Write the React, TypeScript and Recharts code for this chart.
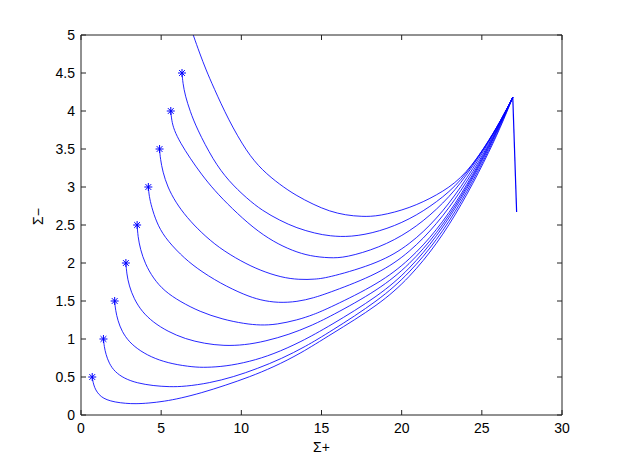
import React from 'react';
import { ComposedChart, Line, Scatter, XAxis, YAxis } from 'recharts';

type Pt = [number, number];

// trajectories in the (Σ+, Σ−) plane
const traj1: Pt[] = [[0.7, 0.5], [0.75, 0.43], [0.85, 0.36], [1.0, 0.3], [1.25, 0.24], [1.6, 0.2], [2.1, 0.17], [2.8, 0.152], [3.4, 0.147], [4.2, 0.155], [5.2, 0.18], [6.2, 0.22], [7.5, 0.29], [9, 0.39], [10.5, 0.5], [12, 0.63], [13.7, 0.81], [15.5, 1.05], [18.6, 1.45], [20.5, 1.81], [22.2, 2.25], [23.7, 2.75], [25.2, 3.35], [26.2, 3.8], [26.93, 4.18]];
const traj2: Pt[] = [[1.4, 1.0], [1.45, 0.9], [1.55, 0.8], [1.75, 0.68], [2.1, 0.57], [2.7, 0.48], [3.5, 0.42], [4.5, 0.385], [5.5, 0.37], [6.5, 0.375], [8, 0.42], [9.5, 0.5], [11, 0.61], [12.5, 0.74], [14, 0.9], [15.5, 1.09], [18.6, 1.51], [20.5, 1.87], [22.2, 2.3], [23.7, 2.79], [25.2, 3.38], [26.2, 3.82], [26.93, 4.18]];
const traj3: Pt[] = [[2.1, 1.5], [2.15, 1.38], [2.3, 1.24], [2.55, 1.1], [3, 0.96], [3.7, 0.84], [4.6, 0.74], [5.7, 0.67], [7, 0.63], [7.8, 0.625], [9, 0.64], [10.5, 0.7], [12, 0.8], [13.7, 0.96], [15.5, 1.17], [18.6, 1.57], [20.5, 1.92], [22.2, 2.35], [23.7, 2.83], [25.2, 3.41], [26.2, 3.84], [26.93, 4.18]];
const traj4: Pt[] = [[2.8, 2.0], [2.85, 1.86], [3.0, 1.7], [3.3, 1.53], [3.8, 1.36], [4.5, 1.22], [5.4, 1.1], [6.5, 1.0], [7.7, 0.94], [8.9, 0.91], [10.2, 0.92], [11.5, 0.97], [13, 1.06], [14.3, 1.17], [15.5, 1.29], [18.6, 1.65], [20.5, 1.98], [22.2, 2.39], [23.7, 2.86], [25.2, 3.43], [26.2, 3.85], [26.93, 4.18]];
const traj5: Pt[] = [[3.5, 2.5], [3.55, 2.35], [3.7, 2.18], [4.0, 1.99], [4.5, 1.8], [5.2, 1.63], [6.2, 1.49], [7.4, 1.36], [8.8, 1.26], [10.2, 1.2], [11.2, 1.18], [12.2, 1.19], [13.5, 1.25], [14.5, 1.32], [15.5, 1.41], [18.6, 1.73], [20.5, 2.04], [22.2, 2.43], [23.7, 2.89], [25.2, 3.45], [26.2, 3.86], [26.93, 4.18]];
const traj6: Pt[] = [[4.2, 3.0], [4.25, 2.88], [4.4, 2.74], [4.7, 2.54], [5.2, 2.34], [6.2, 2.11], [7.2, 1.93], [8.7, 1.73], [10.2, 1.58], [11.2, 1.51], [12.3, 1.475], [13.5, 1.49], [14.5, 1.54], [15.5, 1.61], [18.6, 1.86], [20.5, 2.14], [22.2, 2.51], [23.7, 2.94], [25.2, 3.47], [26.2, 3.87], [26.93, 4.18]];
const traj7: Pt[] = [[4.9, 3.5], [4.95, 3.37], [5.1, 3.2], [5.4, 3.0], [5.9, 2.8], [6.6, 2.6], [7.5, 2.4], [8.6, 2.2], [10, 2.02], [11.2, 1.9], [12.5, 1.81], [13.6, 1.78], [14.6, 1.785], [15.5, 1.81], [18.6, 2.0], [20.5, 2.24], [22.2, 2.58], [23.7, 2.99], [25.2, 3.5], [26.2, 3.88], [26.93, 4.18]];
const traj8: Pt[] = [[5.6, 4.0], [5.65, 3.88], [5.8, 3.75], [6.2, 3.58], [6.8, 3.38], [7.5, 3.17], [8.3, 2.96], [9.4, 2.72], [10.75, 2.46], [12, 2.28], [13.2, 2.16], [14.3, 2.09], [15.5, 2.065], [16.5, 2.07], [18.6, 2.2], [20.5, 2.41], [22.2, 2.7], [23.7, 3.04], [25.2, 3.52], [26.2, 3.88], [26.93, 4.18]];
const traj9: Pt[] = [[6.3, 4.5], [6.35, 4.37], [6.5, 4.2], [6.8, 4.0], [7.22, 3.77], [8.25, 3.35], [9.2, 3.08], [10.34, 2.85], [11.3, 2.69], [12.4, 2.56], [13.45, 2.46], [14.6, 2.39], [15.5, 2.355], [16.8, 2.34], [18.6, 2.41], [20.5, 2.57], [22.2, 2.8], [23.7, 3.07], [25.2, 3.53], [26.2, 3.88], [26.93, 4.18]];
const traj10: Pt[] = [[7.0, 5.0], [7.4, 4.76], [7.8, 4.54], [8.25, 4.32], [9.2, 3.88], [10.34, 3.46], [11.3, 3.22], [12.41, 3.03], [13.4, 2.89], [14.49, 2.77], [15.5, 2.68], [16.5, 2.63], [17.5, 2.61], [18.6, 2.615], [20.5, 2.72], [22.2, 2.89], [23.7, 3.1], [25.0, 3.46], [26.0, 3.8], [26.93, 4.18]];

// common final drop after the peak
const dropSegment: Pt[] = [[26.93, 4.18], [27.17, 2.67]];

// asterisk markers at the initial points
const startX = [0.7, 1.4, 2.1, 2.8, 3.5, 4.2, 4.9, 5.6, 6.3];
const startY = [0.5, 1.0, 1.5, 2.0, 2.5, 3.0, 3.5, 4.0, 4.5];

const xTicks = [0, 5, 10, 15, 20, 25, 30];
const yTicks = [0, 0.5, 1, 1.5, 2, 2.5, 3, 3.5, 4, 4.5, 5];

const trajectories = [traj1, traj2, traj3, traj4, traj5, traj6, traj7, traj8, traj9, traj10];
const BLUE = '#0000ff';
const AXIS = '#222';

const toRows = (pts: Pt[]) => pts.map(([x, y]) => ({ x, y }));
const starts = startX.map((x, i) => ({ x, y: startY[i] }));

function Asterisk(props: any) {
  const { cx, cy } = props;
  const r = 4;
  const d = 2.9;
  return (
    <g stroke={BLUE} strokeWidth={1}>
      <line x1={cx - r} y1={cy} x2={cx + r} y2={cy} />
      <line x1={cx} y1={cy - r} x2={cx} y2={cy + r} />
      <line x1={cx - d} y1={cy - d} x2={cx + d} y2={cy + d} />
      <line x1={cx - d} y1={cy + d} x2={cx + d} y2={cy - d} />
    </g>
  );
}

const tickFont = { fontSize: 14, fill: '#000' };
const noLabel = () => '';

export default function App() {
  return (
    <div style={{ width: 622, height: 468, background: '#fff', fontFamily: '"Liberation Sans", Arial, sans-serif' }}>
      <style>{'body{margin:0}'}</style>
      <ComposedChart width={622} height={468} margin={{ top: 34, right: 59, bottom: 0, left: 0 }}>
        <XAxis xAxisId="b" dataKey="x" type="number" domain={[0, 30]} ticks={xTicks}
          allowDataOverflow tick={tickFont} tickSize={-5} tickMargin={13} height={53}
          stroke={AXIS} interval={0}
          label={{ value: 'Σ+', position: 'insideTop', offset: 27, fontSize: 14, fill: '#000' }} />
        <XAxis xAxisId="t" orientation="top" dataKey="x" type="number" domain={[0, 30]} ticks={xTicks}
          allowDataOverflow tick={{ fontSize: 1 }} tickFormatter={noLabel} tickSize={-5} tickMargin={0}
          height={1} stroke={AXIS} interval={0} />
        <YAxis yAxisId="l" type="number" domain={[0, 5]} ticks={yTicks} allowDataOverflow
          tick={tickFont} tickSize={-5} tickMargin={11} width={81} stroke={AXIS} interval={0}
          label={{ value: 'Σ−', angle: -90, position: 'insideLeft', offset: 38, fontSize: 14, fill: '#000' }} />
        <YAxis yAxisId="r" orientation="right" type="number" domain={[0, 5]} ticks={yTicks} allowDataOverflow
          tick={{ fontSize: 1 }} tickFormatter={noLabel} tickSize={-5} tickMargin={0}
          width={1} stroke={AXIS} interval={0} />
        {/* invisible series so the top and right axes are drawn */}
        <Line xAxisId="t" yAxisId="r" data={toRows(dropSegment)} dataKey="y" stroke="transparent"
          dot={false} activeDot={false} isAnimationActive={false} />
        {trajectories.map((t, i) => (
          <Line key={i} xAxisId="b" yAxisId="l" data={toRows(t)} dataKey="y" type="basis"
            stroke={BLUE} strokeWidth={0.85} dot={false} isAnimationActive={false} />
        ))}
        <Line xAxisId="b" yAxisId="l" data={toRows(dropSegment)} dataKey="y" type="linear"
          stroke={BLUE} strokeWidth={1.2} dot={false} isAnimationActive={false} />
        <Scatter xAxisId="b" yAxisId="l" data={starts} dataKey="y" shape={Asterisk} isAnimationActive={false} />
      </ComposedChart>
    </div>
  );
}
